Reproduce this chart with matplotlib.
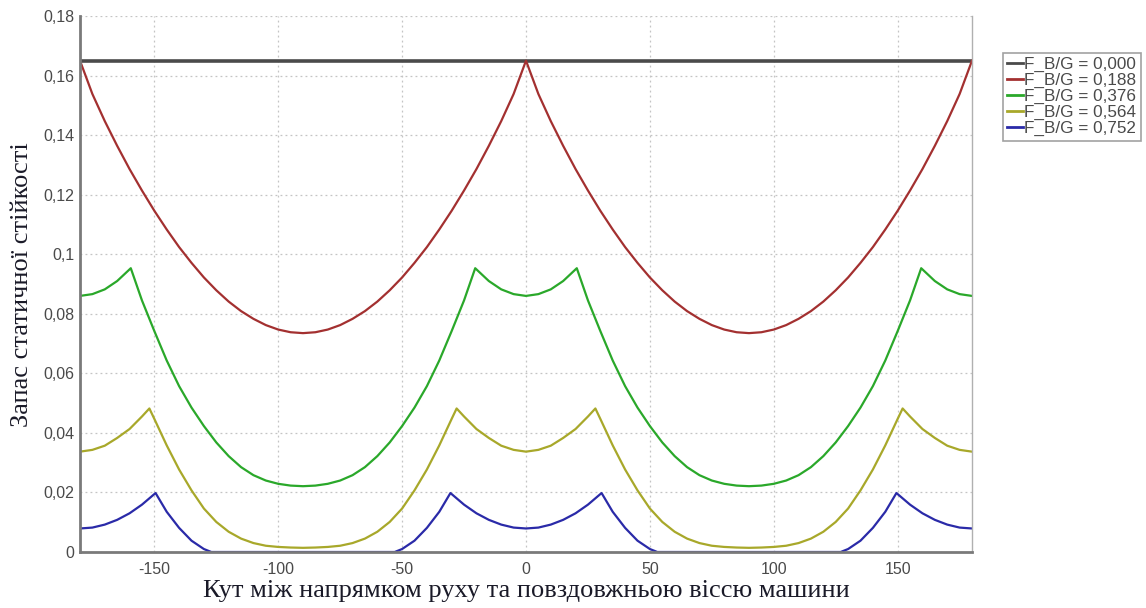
import matplotlib
matplotlib.use("Agg")
import matplotlib.pyplot as plt
from matplotlib.lines import Line2D

# Angle between the direction of motion and the machine's longitudinal axis, degrees
angle_000 = [-180, 180]
margin_000 = [0.165, 0.165]

angle_188 = [-180, -175, -170, -165, -160, -155, -150, -145, -140, -135, -130, -125, -120, -115, -110, -105, -100, -95, -90,
             -85, -80, -75, -70, -65, -60, -55, -50, -45, -40, -35, -30, -25, -20, -15, -10, -5, 0,
             5, 10, 15, 20, 25, 30, 35, 40, 45, 50, 55, 60, 65, 70, 75, 80, 85, 90,
             95, 100, 105, 110, 115, 120, 125, 130, 135, 140, 145, 150, 155, 160, 165, 170, 175, 180]
margin_188 = [0.165, 0.1538, 0.1447, 0.1364, 0.1286, 0.1214, 0.1146, 0.1083, 0.1024, 0.0971, 0.0922, 0.0879, 0.0841, 0.0809, 0.0783, 0.0762, 0.0747, 0.0738, 0.0735,
              0.0738, 0.0747, 0.0762, 0.0783, 0.0809, 0.0841, 0.0879, 0.0922, 0.0971, 0.1024, 0.1083, 0.1146, 0.1214, 0.1286, 0.1364, 0.1447, 0.1538, 0.165,
              0.1538, 0.1447, 0.1364, 0.1286, 0.1214, 0.1146, 0.1083, 0.1024, 0.0971, 0.0922, 0.0879, 0.0841, 0.0809, 0.0783, 0.0762, 0.0747, 0.0738, 0.0735,
              0.0738, 0.0747, 0.0762, 0.0783, 0.0809, 0.0841, 0.0879, 0.0922, 0.0971, 0.1024, 0.1083, 0.1146, 0.1214, 0.1286, 0.1364, 0.1447, 0.1538, 0.165]

angle_376 = [-180, -175, -170, -165, -159.5, -155, -150, -145, -140, -135, -130, -125, -120, -115, -110, -105, -100, -95, -90,
             -85, -80, -75, -70, -65, -60, -55, -50, -45, -40, -35, -30, -25, -20.5, -15, -10, -5, 0,
             5, 10, 15, 20.5, 25, 30, 35, 40, 45, 50, 55, 60, 65, 70, 75, 80, 85, 90,
             95, 100, 105, 110, 115, 120, 125, 130, 135, 140, 145, 150, 155, 159.5, 165, 170, 175, 180]
margin_376 = [0.0860, 0.0866, 0.0882, 0.0910, 0.0953, 0.0845, 0.0742, 0.0643, 0.0557, 0.0485, 0.0423, 0.0368, 0.0322, 0.0285, 0.0258, 0.0240, 0.0229, 0.0223, 0.0221,
              0.0223, 0.0229, 0.0240, 0.0258, 0.0285, 0.0322, 0.0368, 0.0423, 0.0485, 0.0557, 0.0643, 0.0742, 0.0845, 0.0953, 0.0910, 0.0882, 0.0866, 0.0860,
              0.0866, 0.0882, 0.0910, 0.0953, 0.0845, 0.0742, 0.0643, 0.0557, 0.0485, 0.0423, 0.0368, 0.0322, 0.0285, 0.0258, 0.0240, 0.0229, 0.0223, 0.0221,
              0.0223, 0.0229, 0.0240, 0.0258, 0.0285, 0.0322, 0.0368, 0.0423, 0.0485, 0.0557, 0.0643, 0.0742, 0.0845, 0.0953, 0.0910, 0.0882, 0.0866, 0.0860]

angle_564 = [-180, -175, -170, -165, -160, -155, -152, -150, -145, -140, -135, -130, -125, -120, -115, -110, -105, -100, -95, -90,
             -85, -80, -75, -70, -65, -60, -55, -50, -45, -40, -35, -30, -28, -25, -20, -15, -10, -5, 0,
             5, 10, 15, 20, 25, 28, 30, 35, 40, 45, 50, 55, 60, 65, 70, 75, 80, 85, 90,
             95, 100, 105, 110, 115, 120, 125, 130, 135, 140, 145, 150, 152, 155, 160, 165, 170, 175, 180]
margin_564 = [0.0337, 0.0343, 0.0357, 0.0383, 0.0413, 0.0455, 0.0482, 0.0447, 0.0358, 0.0277, 0.0207, 0.0146, 0.0101, 0.0068, 0.0045, 0.0030, 0.0021, 0.0017, 0.0015, 0.0014,
              0.0015, 0.0017, 0.0021, 0.0030, 0.0045, 0.0068, 0.0101, 0.0146, 0.0207, 0.0277, 0.0358, 0.0447, 0.0482, 0.0455, 0.0413, 0.0383, 0.0357, 0.0343, 0.0337,
              0.0343, 0.0357, 0.0383, 0.0413, 0.0455, 0.0482, 0.0447, 0.0358, 0.0277, 0.0207, 0.0146, 0.0101, 0.0068, 0.0045, 0.0030, 0.0021, 0.0017, 0.0015, 0.0014,
              0.0015, 0.0017, 0.0021, 0.0030, 0.0045, 0.0068, 0.0101, 0.0146, 0.0207, 0.0277, 0.0358, 0.0447, 0.0482, 0.0455, 0.0413, 0.0383, 0.0357, 0.0343, 0.0337]

angle_752 = [-180, -175, -170, -165, -160, -155, -149.5, -145, -140, -135, -130, -127, -120, -110, -100, -90,
             -80, -70, -60, -53, -50, -45, -40, -35, -30.5, -25, -20, -15, -10, -5, 0,
             5, 10, 15, 20, 25, 30.5, 35, 40, 45, 50, 53, 60, 70, 80, 90,
             100, 110, 120, 127, 130, 135, 140, 145, 149.5, 155, 160, 165, 170, 175, 180]
margin_752 = [0.0079, 0.0082, 0.0092, 0.0108, 0.0130, 0.0159, 0.0198, 0.0135, 0.0081, 0.0038, 0.0010, 0.0, 0.0, 0.0, 0.0, 0.0,
              0.0, 0.0, 0.0, 0.0, 0.0010, 0.0038, 0.0081, 0.0135, 0.0198, 0.0159, 0.0130, 0.0108, 0.0092, 0.0082, 0.0079,
              0.0082, 0.0092, 0.0108, 0.0130, 0.0159, 0.0198, 0.0135, 0.0081, 0.0038, 0.0010, 0.0, 0.0, 0.0, 0.0, 0.0,
              0.0, 0.0, 0.0, 0.0, 0.0010, 0.0038, 0.0081, 0.0135, 0.0198, 0.0159, 0.0130, 0.0108, 0.0092, 0.0082, 0.0079]

series_labels = ["F_B/G = 0,000", "F_B/G = 0,188", "F_B/G = 0,376", "F_B/G = 0,564", "F_B/G = 0,752"]
series_colors = ["#4a4a4a", "#a33030", "#2aa82a", "#a8a82a", "#2a2aa8"]

x_ticks = [-150, -100, -50, 0, 50, 100, 150]
x_tick_labels = ["-150", "-100", "-50", "0", "50", "100", "150"]
y_ticks = [0, 0.02, 0.04, 0.06, 0.08, 0.10, 0.12, 0.14, 0.16, 0.18]
y_tick_labels = ["0", "0,02", "0,04", "0,06", "0,08", "0,1", "0,12", "0,14", "0,16", "0,18"]

x_label = "Кут між напрямком руху та повздовжньою віссю машини"
y_label = "Запас статичної стійкості"

fig = plt.figure(figsize=(11.46, 6.08), dpi=100)
ax = fig.add_axes([80 / 1146, 1 - 552 / 608, (972 - 80) / 1146, (552 - 16) / 608])

ax.set_xlim(-180, 180)
ax.set_ylim(0, 0.18)

ax.grid(True, color="#c4c4c4", linestyle=(0, (1.5, 2.5)), linewidth=0.9)
ax.set_axisbelow(True)

curves = [(angle_000, margin_000), (angle_188, margin_188), (angle_376, margin_376),
          (angle_564, margin_564), (angle_752, margin_752)]
for i, ((xs, ys), color, label) in enumerate(zip(curves, series_colors, series_labels)):
    lw = 2.6 if i == 0 else 1.6
    ax.plot(xs, ys, color=color, linewidth=lw, label=label, zorder=2 + i * 0.1,
            solid_joinstyle="round")

ax.set_xticks(x_ticks)
ax.set_xticklabels(x_tick_labels)
ax.set_yticks(y_ticks)
ax.set_yticklabels(y_tick_labels)
ax.tick_params(axis="both", length=0, labelsize=11.5, labelcolor="#4a4a4a")
ax.tick_params(axis="y", pad=4)
ax.tick_params(axis="x", pad=7)
for t in ax.get_xticklabels() + ax.get_yticklabels():
    t.set_fontfamily("Liberation Sans")

for side in ("left", "bottom"):
    ax.spines[side].set_color("#7a7a7a")
    ax.spines[side].set_linewidth(2.0)
    ax.spines[side].set_zorder(5)
ax.spines["right"].set_color("#b0b0b0")
ax.spines["right"].set_linewidth(1.0)
ax.spines["top"].set_visible(False)

ax.set_xlabel(x_label, family="Liberation Serif", fontsize=19, color="#1a1a28")
ax.set_ylabel(y_label, family="Liberation Serif", fontsize=19, color="#1a1a28")
ax.xaxis.set_label_coords(0.5, (552 - 591) / 536)
ax.xaxis.label.set_va("center")
ax.yaxis.set_label_coords((22 - 80) / 892, (552 - 285) / 536)
ax.yaxis.label.set_va("center")
ax.yaxis.label.set_ha("center")

handles = [Line2D([0], [0], color=c, linewidth=2.0) for c in series_colors]
leg = fig.legend(handles, series_labels, loc="upper left",
                 bbox_to_anchor=(1003 / 1146, 1 - 53 / 608),
                 prop={"family": "Liberation Sans", "size": 12.3},
                 frameon=True, fancybox=False, shadow=False,
                 handlelength=0.9, handletextpad=0.1, labelspacing=0.05,
                 borderpad=0.25, borderaxespad=0.0)
leg.get_frame().set_edgecolor("#8a8a8a")
leg.get_frame().set_linewidth(1.2)
for t in leg.get_texts():
    t.set_color("#4a4a4a")

fig.savefig("out.png", dpi=100, facecolor="white")
